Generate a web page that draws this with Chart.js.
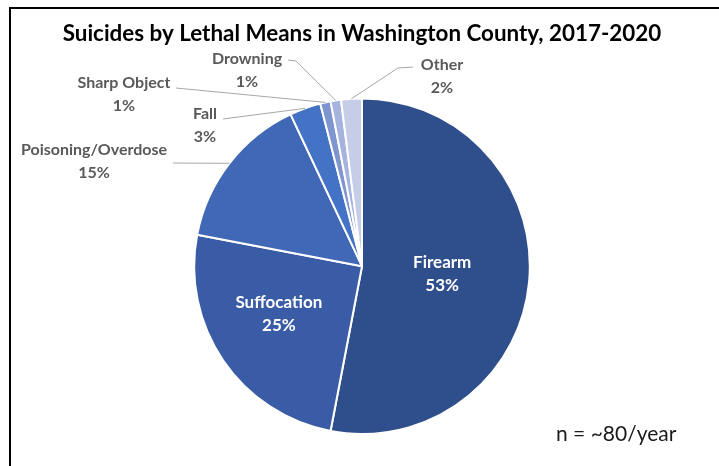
<!DOCTYPE html>
<html lang="en">
<head>
    <meta charset="UTF-8">
    <title>Suicides by Lethal Means in Washington County, 2017-2020</title>
    <script src="https://cdn.jsdelivr.net/npm/chart.js"></script>
    <style>
        body {
            margin: 0;
            background: #fff;
            font-family: Lato, sans-serif;
        }
        .frame {
            position: absolute;
            left: 9px;
            top: 7px;
            width: 710px;
            height: 459px;
            border-top: 2px solid #000;
            border-left: 2px solid #000;
        }
        #grafico {
            position: absolute;
            left: 0;
            top: 0;
        }
    </style>
</head>
<body>

<div class="frame"></div>
<canvas id="grafico" width="719" height="466"></canvas>

<script>
    // datos
    const categorias = ['Firearm', 'Suffocation', 'Poisoning/Overdose', 'Fall', 'Sharp Object', 'Drowning', 'Other'];
    const porcentajes = [53, 25, 15, 3, 1, 1, 2];
    const nota = 'n = ~80/year';

    const colores = ['#2f4e8c', '#3a5ca6', '#4068b6', '#4472c4', '#7f95cf', '#a5b3de', '#c6cde6'];

    // etiquetas dentro: fracción del radio y desplazamiento del ángulo (rad)
    const etiquetasDentro = { 0: [0.48, 0], 1: [0.57, 0.08] };

    // etiquetas fuera del pastel: centro del texto y punto de inicio de la guía
    const etiquetasFuera = {
        2: { x: 94, y: 150, guia: [[173, 163]] },
        3: { x: 205, y: 114, guia: [[223, 119]] },
        4: { x: 124, y: 83, guia: [[176, 88]] },
        5: { x: 247, y: 59, guia: [[288, 60], [296, 61]] },
        6: { x: 442, y: 65, guia: [[413, 67], [398, 68]] }
    };

    const pluginEtiquetas = {
        id: 'etiquetas',
        afterDatasetsDraw(chart) {
            const ctx = chart.ctx;
            const arcos = chart.getDatasetMeta(0).data;
            ctx.save();
            arcos.forEach((arco, i) => {
                const p = arco.getProps(['x', 'y', 'startAngle', 'endAngle', 'outerRadius'], true);
                const medio = (p.startAngle + p.endAngle) / 2;
                const texto = categorias[i];
                const valor = porcentajes[i] + '%';
                ctx.textAlign = 'center';
                ctx.textBaseline = 'middle';
                if (etiquetasFuera[i]) {
                    const e = etiquetasFuera[i];
                    // guía
                    ctx.strokeStyle = '#a6a6a6';
                    ctx.lineWidth = 1;
                    ctx.beginPath();
                    e.guia.forEach((pt, k) => k === 0 ? ctx.moveTo(pt[0], pt[1]) : ctx.lineTo(pt[0], pt[1]));
                    ctx.lineTo(p.x + Math.cos(medio) * p.outerRadius, p.y + Math.sin(medio) * p.outerRadius);
                    ctx.stroke();
                    ctx.fillStyle = '#595959';
                    ctx.font = 'bold 16px Lato';
                    ctx.fillText(texto, e.x, e.y);
                    ctx.fillText(valor, e.x, e.y + 23);
                } else {
                    const [frac, giro] = etiquetasDentro[i];
                    const r = p.outerRadius * frac;
                    const cx = p.x + Math.cos(medio + giro) * r;
                    const cy = p.y + Math.sin(medio + giro) * r;
                    ctx.fillStyle = '#ffffff';
                    ctx.font = 'bold 17px Lato';
                    ctx.fillText(texto, cx, cy - 11);
                    ctx.fillText(valor, cx, cy + 12);
                }
            });
            // nota
            ctx.fillStyle = '#1a1a1a';
            ctx.font = '21px Lato';
            ctx.textAlign = 'left';
            ctx.fillText(nota, 556, 434);
            ctx.restore();
        }
    };

    const ctx = document.getElementById('grafico').getContext('2d');
    new Chart(ctx, {
        type: 'pie',
        data: {
            labels: categorias,
            datasets: [{
                data: porcentajes,
                backgroundColor: colores,
                borderColor: '#ffffff',
                borderWidth: 2
            }]
        },
        options: {
            responsive: false,
            animation: false,
            layout: {
                padding: { left: 5, right: 0, top: 0, bottom: 31 }
            },
            plugins: {
                legend: { display: false },
                tooltip: { enabled: false },
                title: {
                    display: true,
                    text: 'Suicides by Lethal Means in Washington County, 2017-2020',
                    color: '#000',
                    font: { family: 'Lato', size: 22.4, weight: 'bold' },
                    padding: { top: 20, bottom: 50.5 }
                }
            }
        },
        plugins: [pluginEtiquetas]
    });
</script>

</body>
</html>
